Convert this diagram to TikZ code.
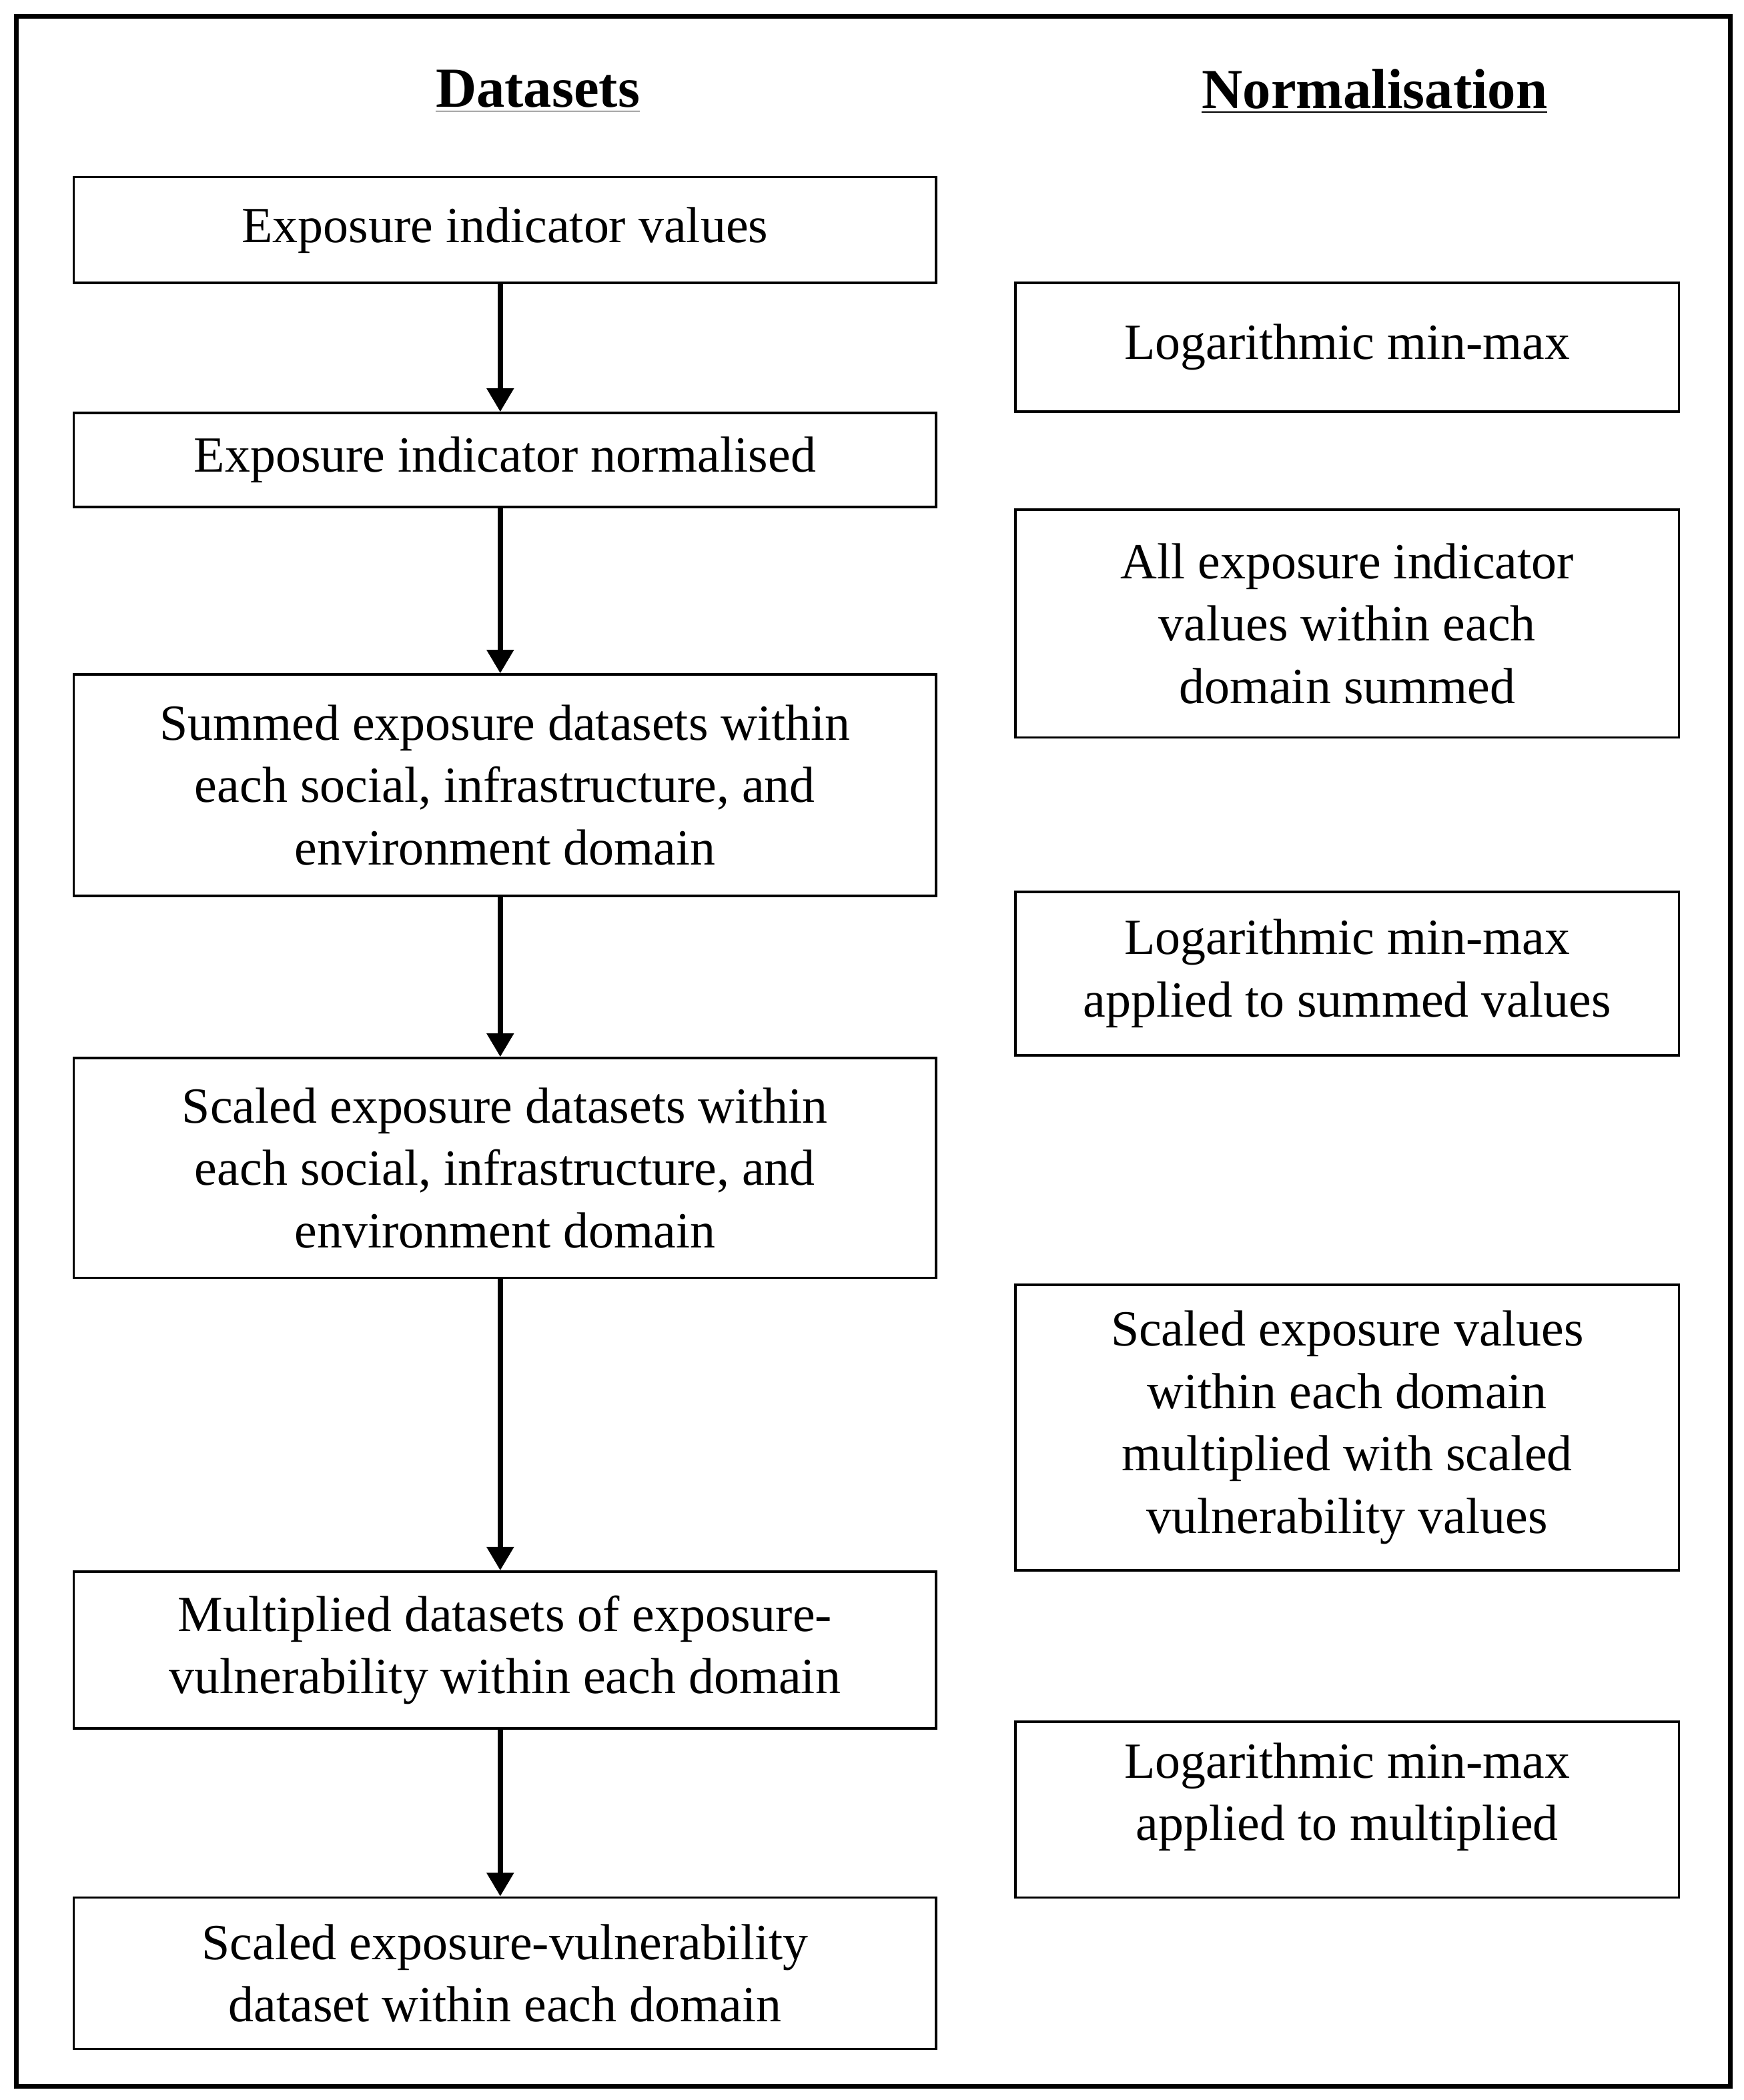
\documentclass[tikz,border=0pt]{standalone}
\usepackage{fontspec}
\setmainfont{Liberation Serif}
\usetikzlibrary{arrows.meta}
\begin{document}
\begin{tikzpicture}[x=0.02cm,y=-0.02cm,
  box/.style={draw,line width=1pt,align=center,inner sep=0pt,font=\fontsize{21.5}{26.5}\selectfont},
  lb/.style={box,minimum width=12.86cm},
  rb/.style={box,minimum width=9.9cm},
  hd/.style={font=\fontsize{24}{28}\selectfont\bfseries},
  arr/.style={line width=2.4pt,-{Triangle[length=10pt,width=11pt]}}]
\useasboundingbox (0,0) rectangle (1300,1566);
\draw[line width=2pt] (12,12) rectangle (1290,1556);
\node[hd] (h1) at (401,68) {\underline{Datasets}};
\node[hd] (h2) at (1025,68) {\underline{Normalisation}};
\node[lb,minimum height=1.58cm] (l1) at (376.5,171.5) {Exposure indicator values};
\node[lb,minimum height=1.4cm] (l2) at (376.5,343) {Exposure indicator normalised};
\node[lb,minimum height=3.3cm] (l3) at (376.5,585.5) {Summed exposure datasets within\\each social, infrastructure, and\\environment domain};
\node[lb,minimum height=3.28cm] (l4) at (376.5,871) {Scaled exposure datasets within\\each social, infrastructure, and\\environment domain};
\node[lb,minimum height=2.34cm] (l5) at (376.5,1230.5) {Multiplied datasets of exposure-\\vulnerability within each domain};
\node[lb,minimum height=2.26cm] (l6) at (376.5,1471.5) {Scaled exposure-vulnerability\\dataset within each domain};
\node[rb,minimum height=1.92cm] (r1) at (1004.5,259) {Logarithmic min-max};
\node[rb,minimum height=3.4cm] (r2) at (1004.5,465) {All exposure indicator\\values within each\\domain summed};
\node[rb,minimum height=2.44cm] (r3) at (1004.5,726) {Logarithmic min-max\\applied to summed values};
\node[rb,minimum height=4.26cm] (r4) at (1004.5,1064.5) {Scaled exposure values\\within each domain\\multiplied with scaled\\vulnerability values};
\node[rb,minimum height=2.62cm] (r5) at (1004.5,1349.5) {};
\node[font=\fontsize{21.5}{26.5}\selectfont,align=center] (r5t) at (1004.5,1340) {Logarithmic min-max\\applied to multiplied};
\draw[arr] (l1.south -| 373,0) -- (l2.north -| 373,0);
\draw[arr] (l2.south -| 373,0) -- (l3.north -| 373,0);
\draw[arr] (l3.south -| 373,0) -- (l4.north -| 373,0);
\draw[arr] (l4.south -| 373,0) -- (l5.north -| 373,0);
\draw[arr] (l5.south -| 373,0) -- (l6.north -| 373,0);
\end{tikzpicture}
\end{document}
